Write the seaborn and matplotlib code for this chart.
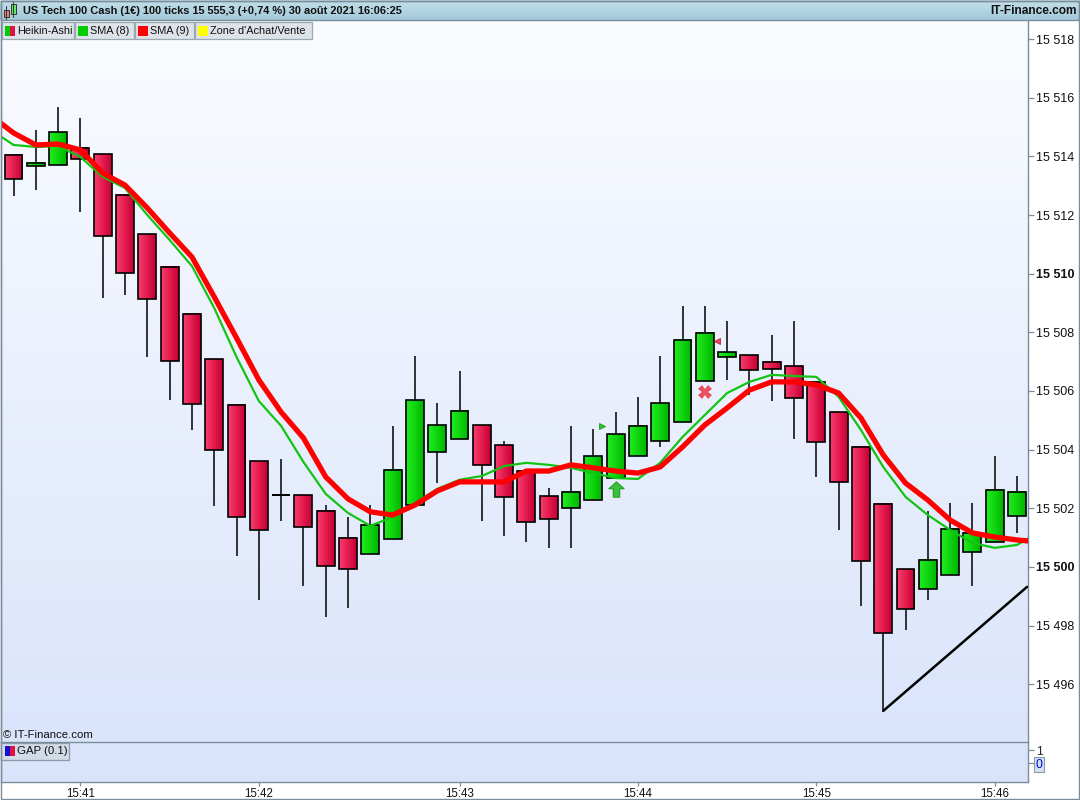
import numpy as np
import pandas as pd
import seaborn as sns
import matplotlib
matplotlib.use("Agg")
import matplotlib.pyplot as plt
from matplotlib.patches import Rectangle
from matplotlib.colors import LinearSegmentedColormap
from matplotlib.ticker import FuncFormatter, FixedLocator

sns.set_style("white")
plt.rcParams['font.family'] = ['Liberation Sans', 'DejaVu Sans']

# ---------------- data (Heikin-Ashi candles, 100 ticks) ----------------
opens = [15514.05, 15513.67, 15513.71, 15514.29, 15514.08, 15512.68, 15511.35, 15510.23,
         15508.63, 15507.09, 15505.52, 15503.61, 15502.45, 15502.45, 15501.91, 15500.99,
         15500.44, 15500.95, 15502.11, 15503.92, 15504.36, 15504.84, 15504.16, 15503.27,
         15502.42, 15502.01, 15502.28, 15503.03, 15503.78, 15504.30, 15504.94, 15506.34,
         15507.16, 15507.23, 15506.99, 15506.85, 15506.31, 15505.28, 15504.09, 15502.15,
         15499.93, 15499.25, 15499.73, 15500.51, 15500.85, 15501.74]
highs = [15514.05, 15514.90, 15515.68, 15515.31, 15514.08, 15512.68, 15511.35, 15510.23,
         15508.63, 15507.09, 15505.52, 15503.61, 15503.68, 15502.45, 15502.11, 15501.70,
         15502.11, 15504.81, 15507.19, 15505.59, 15506.68, 15504.84, 15504.30, 15503.27,
         15502.69, 15504.81, 15504.71, 15505.28, 15505.80, 15507.19, 15508.90, 15508.90,
         15508.39, 15507.23, 15507.91, 15508.39, 15506.31, 15505.28, 15504.09, 15502.15,
         15499.93, 15501.91, 15502.18, 15502.18, 15503.78, 15503.10]
lows = [15512.65, 15512.85, 15513.71, 15512.10, 15509.17, 15509.27, 15507.16, 15505.69,
        15504.67, 15502.08, 15500.38, 15498.87, 15501.57, 15499.35, 15498.30, 15498.60,
        15500.44, 15500.95, 15502.11, 15502.86, 15504.36, 15501.57, 15501.06, 15500.85,
        15500.65, 15500.65, 15502.28, 15503.03, 15503.78, 15504.09, 15504.94, 15506.34,
        15506.38, 15505.86, 15505.66, 15504.36, 15503.07, 15501.26, 15498.67, 15495.09,
        15497.85, 15498.87, 15499.73, 15499.35, 15500.85, 15501.16]
closes = [15513.23, 15513.79, 15514.83, 15513.91, 15511.29, 15510.02, 15509.14, 15507.02,
          15505.56, 15503.99, 15501.70, 15501.26, 15502.45, 15501.36, 15500.03, 15499.93,
          15501.43, 15503.31, 15505.69, 15504.84, 15505.32, 15503.48, 15502.39, 15501.53,
          15501.64, 15502.56, 15503.78, 15504.53, 15504.81, 15505.59, 15507.74, 15507.98,
          15507.33, 15506.72, 15506.75, 15505.76, 15504.26, 15502.90, 15500.20, 15497.75,
          15498.57, 15500.24, 15501.30, 15501.16, 15502.63, 15502.56]

# moving averages: first value = bar before the first visible candle,
# last value = bar being formed after the last visible candle
sma8_offsets = [14.90, 14.39, 14.32, 14.35, 13.98, 13.30, 12.92, 12.00, 11.15, 10.26, 8.83,
                7.16, 5.66, 4.81, 3.58, 2.49, 1.84, 1.40, 1.70, 2.18, 2.66, 2.97, 3.10, 3.44,
                3.55, 3.48, 3.38, 3.20, 3.03, 3.00, 3.55, 4.43, 5.18, 5.93, 6.31, 6.55, 6.51,
                6.48, 5.80, 4.67, 3.41, 2.39, 1.77, 1.26, 0.82, 0.65, 0.75, 1.19]
sma9_offsets = [15.38, 14.80, 14.39, 14.42, 14.22, 13.43, 13.02, 12.24, 11.39, 10.57, 9.21,
                7.81, 6.38, 5.28, 4.40, 3.07, 2.32, 1.88, 1.77, 2.11, 2.59, 2.90, 2.90, 2.90,
                3.27, 3.27, 3.48, 3.38, 3.27, 3.20, 3.41, 4.09, 4.84, 5.42, 6.03, 6.31, 6.31,
                6.21, 5.93, 5.08, 3.82, 2.86, 2.28, 1.60, 1.16, 1.02, 0.92, 0.85]
sma_base = 15500.0

# trend line (bar index, price)
trend_x = [39, 45.45]
trend_y = [15495.09, 15499.32]

# buy / sell signals (bar index, price)
buy_tri = (26.4, 15504.81)
buy_arrow = (27, 15502.66)
sell_tri = (31.55, 15507.71)
sell_x = (31, 15505.97)

time_tick_pos = [3, 11, 20, 28, 36, 44]
time_tick_labels = ['15:41', '15:42', '15:43', '15:44', '15:45', '15:46']
price_ticks = [15496, 15498, 15500, 15502, 15504, 15506, 15508, 15510, 15512, 15514, 15516, 15518]
bold_prices = [15500, 15510]

title = "US Tech 100 Cash (1€) 100 ticks 15 555,3 (+0,74 %) 30 août 2021 16:06:25"
legend_items = ["Heikin-Ashi", "SMA (8)", "SMA (9)", "Zone d'Achat/Vente"]

# ---------------- figure ----------------
W, H = 1080, 800
fig = plt.figure(figsize=(W / 100, H / 100), dpi=100, facecolor='white')

def fr(x0, y0, x1, y1):
    return [x0 / W, 1 - y1 / H, (x1 - x0) / W, (y1 - y0) / H]

PLOT_R = 1027.5
ax = fig.add_axes(fr(0.5, 20, PLOT_R, 742))
sub = fig.add_axes(fr(0.5, 742, PLOT_R, 782), sharex=ax)

idx = np.arange(len(opens))
o = np.array(opens); c = np.array(closes); hi = np.array(highs); lo = np.array(lows)
xmin, xmax = -0.583, 45.47
ymin, ymax = 15494.03, 15518.65

# background gradient
grad = LinearSegmentedColormap.from_list('bg', ['#dae4fb', '#fafcff'])
ax.imshow(np.linspace(0, 1, 256).reshape(-1, 1), extent=(xmin, xmax, ymin, ymax),
          origin='lower', aspect='auto', cmap=grad, zorder=0)

# wicks
ax.vlines(idx, lo, hi, color='black', lw=1.1, zorder=2)
# bodies with horizontal gradient
red_cm = LinearSegmentedColormap.from_list('r', ['#f93d70', '#e31c4e', '#c60037'])
green_cm = LinearSegmentedColormap.from_list('g', ['#22ec22', '#0fd40f', '#00b400'])
hgrad = np.linspace(0, 1, 32).reshape(1, -1)
bw = 0.8
for i in idx:
    lo_b, hi_b = min(o[i], c[i]), max(o[i], c[i])
    if c[i] == o[i]:
        ax.hlines(o[i], i - bw / 2, i + bw / 2, color='black', lw=1.2, zorder=3)
        continue
    cm = green_cm if c[i] > o[i] else red_cm
    ax.imshow(hgrad, extent=(i - bw / 2, i + bw / 2, lo_b, hi_b), aspect='auto',
              cmap=cm, zorder=3, interpolation='bilinear')
ax.bar(idx, c - o, bottom=o, width=bw, fill=False, edgecolor='black', linewidth=1.2, zorder=3.5)

# moving averages
sma_idx = np.arange(-1, len(sma8_offsets) - 1)
df = pd.DataFrame({'i': sma_idx,
                   'sma8': sma_base + np.array(sma8_offsets),
                   'sma9': sma_base + np.array(sma9_offsets)})
sns.lineplot(data=df, x='i', y='sma8', ax=ax, color='#14c414', lw=1.6, zorder=4)
sns.lineplot(data=df, x='i', y='sma9', ax=ax, color='#ff0000', lw=3.8, zorder=5)

# trend line
ax.plot(trend_x, trend_y, color='black', lw=1.8, zorder=6)

# signals
arrow_marker = [(0, 1), (1, 0.1), (0.42, 0.1), (0.42, -1), (-0.42, -1), (-0.42, 0.1), (-1, 0.1), (0, 1)]
ax.plot(*buy_arrow, marker=arrow_marker, ms=11, color='#3cbf3c', mec='#22a022', mew=0.8, zorder=7)
ax.plot(*buy_tri, marker='>', ms=5, color='#2ec82e', mec='#1a9a1a', mew=0.6, zorder=7)
ax.plot(*sell_tri, marker='<', ms=5, color='#e84a5a', mec='#c02030', mew=0.6, zorder=7)
ax.plot(*sell_x, marker='X', ms=10, color='#e8505e', mec='#e8505e', mew=0, zorder=7)

ax.set_xlim(xmin, xmax)
ax.set_ylim(ymin, ymax)
ax.set_xlabel(''); ax.set_ylabel('')
ax.yaxis.tick_right()
ax.yaxis.set_major_locator(FixedLocator(price_ticks))
ax.yaxis.set_major_formatter(FuncFormatter(lambda v, p: f"{int(round(v)):,}".replace(',', ' ')))
ax.tick_params(axis='y', which='both', right=True, length=4, width=0.9, color='#7b8d9a',
               labelsize=9, pad=2, labelcolor='#111111')
ax.tick_params(axis='x', bottom=False, labelbottom=False)
for lab, val in zip(ax.get_yticklabels(), price_ticks):
    if val in bold_prices:
        lab.set_fontweight('bold')
        lab.set_fontsize(9)
for s in ['top', 'bottom']:
    ax.spines[s].set_visible(False)
for s in ['left', 'right']:
    ax.spines[s].set_color('#7b8d9a'); ax.spines[s].set_linewidth(1.0)

# lower GAP panel
sub.set_facecolor('#d9e4fb')
sub.set_ylim(-1.46, 1.64)
sub.yaxis.tick_right()
sub.set_yticks([0, 1])
sub.set_yticklabels(['0', '1'])
sub.tick_params(axis='y', length=4, width=0.9, color='#7b8d9a', labelsize=8.8, pad=2)
ytl = sub.get_yticklabels()
ytl[0].set_color('#0000dd')
ytl[0].set_bbox(dict(boxstyle='square,pad=0.12', fc='#d5e0ee', ec='#8a9aa8', lw=0.8))
sub.get_yaxis().get_major_ticks()[0].tick2line.set_color('#0000dd')
sub.set_xticks(time_tick_pos)
sub.set_xticklabels(time_tick_labels)
sub.tick_params(axis='x', bottom=True, length=3, width=0.9, color='#7b8d9a', labelsize=8.3,
                pad=1.5, labelcolor='#111111')
for s in sub.spines.values():
    s.set_color('#7b8d9a'); s.set_linewidth(1.0)
sub.set_xlim(xmin, xmax)

# ---------------- overlay: header, legend boxes ----------------
ov = fig.add_axes([0, 0, 1, 1], zorder=10)
ov.patch.set_alpha(0)
hcm = LinearSegmentedColormap.from_list('hd', ['#a3c9da', '#c4e0ea'])
ov.imshow(np.linspace(0, 1, 64).reshape(-1, 1), extent=(0, W, 20, 0), origin='lower',
          aspect='auto', cmap=hcm)
ov.add_patch(Rectangle((0.5, 0.5), W - 1.5, 19.5, fill=False, ec='#7b8d9a', lw=1))
# header icon
ov.plot([6, 6], [6, 19], color='#333333', lw=0.7)
ov.add_patch(Rectangle((3.5, 10), 5, 7, fc='#f07a7a', ec='#333333', lw=0.7))
ov.plot([13, 13], [2, 17], color='#333333', lw=0.7)
ov.add_patch(Rectangle((10.5, 4), 5, 10, fc='#6be86b', ec='#333333', lw=0.7))
ov.text(23, 10.5, title, fontsize=7.9, fontweight='bold', va='center', ha='left', color='#111111')
ov.text(1077, 10.5, 'IT-Finance.com', fontsize=8.6, fontweight='bold', va='center', ha='right',
        color='#111111')

boxes = [(2, 74), (75, 134), (135, 194), (195, 312)]
icon_cols = [('#00cc00', '#dd1144'), ('#00cc00', '#00cc00'), ('#ff0000', '#ff0000'), ('#ffff00', '#ffff00')]
for (x0, x1), lab, (c1, c2) in zip(boxes, legend_items, icon_cols):
    ov.add_patch(Rectangle((x0, 22), x1 - x0, 17, fc='#dde3e8', ec='#9aa8b2', lw=0.9))
    ov.add_patch(Rectangle((x0 + 3, 25.5), 5, 10, fc=c1, ec='none'))
    ov.add_patch(Rectangle((x0 + 8, 25.5), 5, 10, fc=c2, ec='none'))
    ov.text(x0 + 15.5, 30.5, lab, fontsize=7.8, va='center', ha='left', color='#111111')

ov.text(3, 735.5, '© IT-Finance.com', fontsize=8.2, va='center', ha='left', color='#111111')

# GAP legend
ov.add_patch(Rectangle((1, 743), 68, 17, fc='#d2dbe6', ec='#8a9aa8', lw=0.9))
ov.add_patch(Rectangle((5, 746), 5, 10, fc='#1111cc', ec='none'))
ov.add_patch(Rectangle((10, 746), 5, 10, fc='#dd1144', ec='none'))
ov.text(17, 751.5, 'GAP (0.1)', fontsize=8.2, va='center', ha='left', color='#111111')

# outer frame
ov.add_patch(Rectangle((0.5, 0.5), W - 2, H - 2, fill=False, ec='#7b8d9a', lw=1))
ov.set_xlim(0, W)
ov.set_ylim(H, 0)
ov.axis('off')

fig.savefig('out.png', dpi=100, facecolor='white')
